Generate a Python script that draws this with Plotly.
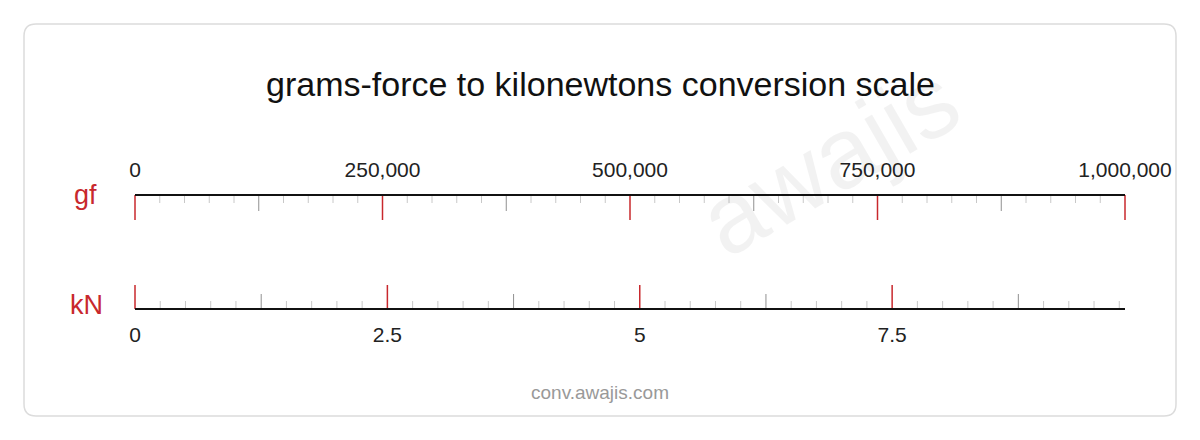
import plotly.graph_objects as go

GF_MAX = 1_000_000
KN_PER_GF = 9.80665e-6
gf_major = [0, 250000, 500000, 750000, 1000000]
gf_major_labels = ["0", "250,000", "500,000", "750,000", "1,000,000"]
kn_major = [0, 2.5, 5, 7.5]
kn_major_labels = ["0", "2.5", "5", "7.5"]
title = "grams-force to kilonewtons conversion scale"

RED = "#c8282d"
OFF = 8  # page body margin
W, H = 1200 - 2 * OFF, 440 - 2 * OFF
X0, X1 = 135 - OFF, 1125 - OFF
def P(y): return y - OFF
def kx(v): return v / KN_PER_GF

fig = go.Figure()

def seg(xs, y0, y1):
    X, Y = [], []
    for x in xs:
        X += [x, x, None]; Y += [P(y0), P(y1), None]
    return X, Y

gf_minor = [i * 25000 for i in range(41) if i % 5]
gf_mid = [i * 125000 for i in range(9) if i % 2]
kmax = GF_MAX * KN_PER_GF
kn_minor = [i * 0.25 for i in range(40) if i % 5 and i * 0.25 <= kmax]
kn_mid = [i * 1.25 for i in range(8) if i % 2 and i * 1.25 <= kmax]

def add(X, Y, color, w):
    fig.add_trace(go.Scatter(x=X, y=Y, mode="lines", line=dict(color=color, width=w),
                             hoverinfo="skip", showlegend=False))

add(*seg(gf_minor, 195, 203), "#c8c8c8", 1)
add(*seg(gf_mid, 195, 211), "#909090", 1)
add(*seg(gf_major, 195, 220), RED, 1.5)
add([0, GF_MAX], [P(195), P(195)], "#111", 2)

add(*seg([kx(v) for v in kn_minor], 301, 309), "#c8c8c8", 1)
add(*seg([kx(v) for v in kn_mid], 294, 309), "#909090", 1)
add(*seg([kx(v) for v in kn_major], 285, 309), RED, 1.5)
add([0, GF_MAX], [P(309), P(309)], "#111", 2)

lf = dict(size=21, color="#222", family="Liberation Sans")
fig.add_trace(go.Scatter(x=gf_major, y=[P(172)] * 5, mode="text", text=gf_major_labels,
                         textfont=lf, hoverinfo="skip", showlegend=False))
fig.add_trace(go.Scatter(x=[kx(v) for v in kn_major], y=[P(337)] * 4, mode="text",
                         text=kn_major_labels, textfont=lf, hoverinfo="skip", showlegend=False))

scale = GF_MAX / (X1 - X0)
xr = [-X0 * scale, (W - X0) * scale]

def px(x): return (x - OFF) / W

ann = [
    dict(x=px(600), y=P(84), xref="paper", yref="y", text=title, showarrow=False,
         font=dict(size=34, color="#111", family="Liberation Sans")),
    dict(x=px(72), y=P(195), xref="paper", yref="y", text="gf", showarrow=False,
         font=dict(size=27, color=RED, family="Liberation Sans")),
    dict(x=px(68), y=P(305), xref="paper", yref="y", text="kN", showarrow=False,
         font=dict(size=27, color=RED, family="Liberation Sans")),
    dict(x=px(600), y=P(392), xref="paper", yref="y", text="conv.awajis.com", showarrow=False,
         font=dict(size=19, color="#999", family="Liberation Sans")),
    dict(x=px(980), y=P(160), xref="paper", yref="y", text="awajis", showarrow=False, textangle=-30,
         font=dict(size=100, color="rgba(0,0,0,0.05)", family="Liberation Sans")),
]

rx, ry = 12 / W, 12 / H
x0p, x1p = px(24), px(1176)
y0p, y1p = 1 - P(416) / H, 1 - P(24) / H
path = (f"M{x0p+rx},{y0p} L{x1p-rx},{y0p} Q{x1p},{y0p} {x1p},{y0p+ry} L{x1p},{y1p-ry} "
        f"Q{x1p},{y1p} {x1p-rx},{y1p} L{x0p+rx},{y1p} Q{x0p},{y1p} {x0p},{y1p-ry} "
        f"L{x0p},{y0p+ry} Q{x0p},{y0p} {x0p+rx},{y0p} Z")

fig.update_layout(
    width=W, height=H, margin=dict(l=0, r=0, t=0, b=0),
    paper_bgcolor="white", plot_bgcolor="white",
    xaxis=dict(range=xr, visible=False, fixedrange=True),
    yaxis=dict(range=[H, 0], visible=False, fixedrange=True),
    annotations=ann,
    shapes=[dict(type="path", path=path, xref="paper", yref="paper",
                 line=dict(color="#dcdcdc", width=1.5), layer="below")],
)
fig.write_html("out.html")
